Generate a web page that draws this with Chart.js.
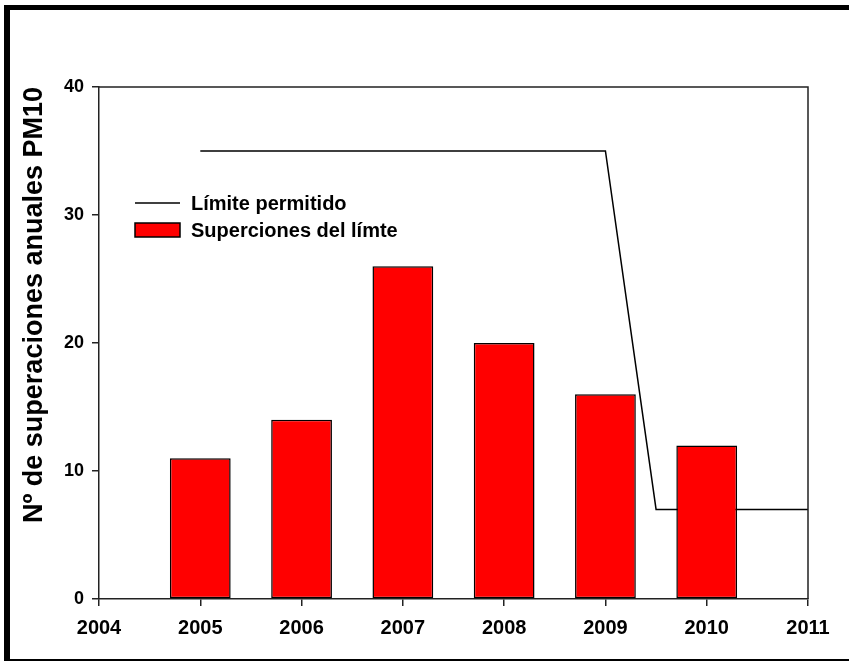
<!DOCTYPE html>
<html>
<head>
<meta charset="utf-8">
<script src="https://cdn.jsdelivr.net/npm/chart.js@4/dist/chart.umd.min.js"></script>
<style>
    html, body { margin: 0; padding: 0; background: #fff; }
    #wrap { width: 849px; height: 662px; position: relative; }
</style>
</head>
<body>
<div id="wrap"><canvas id="pm10Chart"></canvas></div>
<script>
'use strict';

// Data
const years = [2005, 2006, 2007, 2008, 2009, 2010];
const exceedances = [11, 14, 26, 20, 16, 12];
const limitYears = [2005, 2009, 2009.5, 2011];
const limitValues = [35, 35, 7, 7];
const xTickValues = [2004, 2005, 2006, 2007, 2008, 2009, 2010, 2011];
const yTickValues = [0, 10, 20, 30, 40];

const FONT = "'Liberation Sans', Arial, sans-serif";

// Outer frame (thick top/left, thin bottom) and the plot box
const framePlugin = {
    id: 'frame',
    beforeDraw(chart) {
        const ctx = chart.ctx;
        ctx.save();
        ctx.fillStyle = '#fff';
        ctx.fillRect(0, 0, chart.width, chart.height);
        ctx.fillStyle = '#000';
        ctx.fillRect(4, 5, chart.width - 4, 5);
        ctx.fillRect(4, 5, 6, chart.height - 6);
        ctx.fillRect(4, chart.height - 3, chart.width - 4, 2);
        ctx.restore();
    },
    afterDatasetsDraw(chart) {
        const a = chart.chartArea;
        const ctx = chart.ctx;
        ctx.save();
        ctx.strokeStyle = '#222';
        ctx.lineWidth = 1.5;
        ctx.beginPath();
        ctx.moveTo(a.left, a.top);
        ctx.lineTo(a.right, a.top);
        ctx.lineTo(a.right, a.bottom);
        ctx.stroke();
        ctx.restore();
    }
};

// Legend drawn inside the plot area
const insideLegend = {
    id: 'insideLegend',
    afterDraw(chart) {
        const a = chart.chartArea;
        const ctx = chart.ctx;
        const x0 = a.left + 36;
        const ds = chart.data.datasets;
        ctx.save();
        ctx.font = 'bold 20px ' + FONT;
        ctx.textBaseline = 'middle';
        ctx.fillStyle = '#000';

        // line sample
        const y1 = a.top + 116;
        ctx.strokeStyle = '#000';
        ctx.lineWidth = 1.5;
        ctx.beginPath();
        ctx.moveTo(x0, y1);
        ctx.lineTo(x0 + 45, y1);
        ctx.stroke();
        ctx.fillText(ds[1].label, x0 + 56, y1 + 1);

        // bar sample
        const y2 = a.top + 143;
        ctx.fillStyle = '#ff0000';
        ctx.fillRect(x0, y2 - 7, 45, 14);
        ctx.lineWidth = 1.5;
        ctx.strokeRect(x0, y2 - 7, 45, 14);
        ctx.fillStyle = '#000';
        ctx.fillText(ds[0].label, x0 + 56, y2 + 1);
        ctx.restore();
    }
};

new Chart(document.getElementById('pm10Chart'), {
    type: 'bar',
    data: {
        datasets: [{
            type: 'bar',
            label: 'Superciones del límte',
            data: years.map((yr, i) => ({ x: yr, y: exceedances[i] })),
            backgroundColor: '#ff0000',
            borderColor: '#000',
            borderWidth: 1.5,
            borderSkipped: false,
            barPercentage: 0.6,
            categoryPercentage: 1.0,
            order: 1
        }, {
            type: 'line',
            label: 'Límite permitido',
            data: limitYears.map((yr, i) => ({ x: yr, y: limitValues[i] })),
            borderColor: '#000',
            borderWidth: 1.5,
            pointRadius: 0,
            fill: false,
            tension: 0,
            order: 2
        }]
    },
    options: {
        responsive: true,
        maintainAspectRatio: false,
        animation: false,
        layout: {
            padding: { top: 87, right: 41, bottom: 0, left: 0 }
        },
        plugins: {
            legend: { display: false },
            tooltip: { enabled: false }
        },
        scales: {
            x: {
                type: 'linear',
                min: 2004,
                max: 2011,
                offset: false,
                afterFit(scale) { scale.height = 63; },
                afterBuildTicks(scale) {
                    scale.ticks = xTickValues.map(v => ({ value: v }));
                },
                ticks: {
                    color: '#000',
                    padding: 10,
                    maxRotation: 0,
                    font: { family: FONT, size: 20, weight: 'bold' },
                    callback: (v) => String(v)
                },
                grid: {
                    offset: false,
                    drawOnChartArea: false,
                    drawTicks: true,
                    tickLength: 7,
                    color: '#222',
                    lineWidth: 1.5
                },
                border: { display: true, color: '#222', width: 1.5 }
            },
            y: {
                min: 0,
                max: 40,
                afterFit(scale) { scale.width = 99; },
                afterBuildTicks(scale) {
                    scale.ticks = yTickValues.map(v => ({ value: v }));
                },
                ticks: {
                    color: '#000',
                    padding: 8,
                    font: { family: FONT, size: 18, weight: 'bold' }
                },
                grid: {
                    drawOnChartArea: false,
                    drawTicks: true,
                    tickLength: 7,
                    color: '#222',
                    lineWidth: 1.5
                },
                border: { display: true, color: '#222', width: 1.5 },
                title: {
                    display: true,
                    text: 'Nº de superaciones anuales PM10',
                    color: '#000',
                    align: 'end',
                    padding: { top: 18, bottom: 0 },
                    font: { family: FONT, size: 27, weight: 'bold' }
                }
            }
        }
    },
    plugins: [framePlugin, insideLegend]
});
</script>
</body>
</html>
